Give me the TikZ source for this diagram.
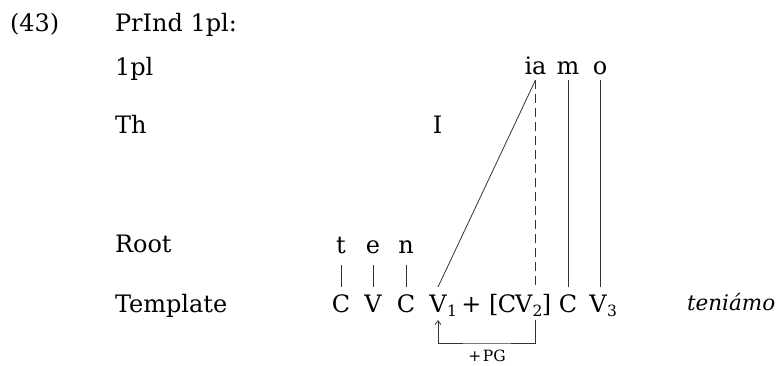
\documentclass[tikz,border=0pt]{standalone}
\usepackage{fontspec}
\setmainfont{DejaVu Serif}
\usetikzlibrary{arrows.meta}
\newcommand{\subsz}{\fontsize{15.5}{16}\selectfont}
\newcommand{\sbs}[1]{\rlap{\kern0.5pt\raisebox{-4pt}{\subsz #1}}}
\begin{document}
\begin{tikzpicture}[x=1pt,y=-1pt,
  every node/.style={inner sep=0pt, outer sep=0pt, text=black,
    font=\fontsize{24}{28}\selectfont},
  lab/.style={anchor=base west},
  seg/.style={anchor=base},
  topseg/.style={anchor=base, text height=13pt, text depth=0pt, inner ysep=6pt},
  rootseg/.style={anchor=base, text height=13pt, text depth=0pt, inner ysep=12pt},
  tmpl/.style={anchor=base, text height=17pt, text depth=0pt, inner ysep=8pt},
  assoc/.style={draw=black!80, line width=0.8pt},
  dassoc/.style={assoc, dash pattern=on 9pt off 5pt},
  arr/.style={assoc, -{Straight Barb[length=4pt,width=6pt]}},
  small/.style={font=\fontsize{15.5}{17}\selectfont}]
\useasboundingbox (0,0) rectangle (776,365);

% header
\node[lab] (ex) at (10,31) {(43)};
\node[lab] (title) at (115,31) {PrInd 1pl:};

% tier labels
\node[lab] (l1pl) at (115,75) {1pl};
\node[lab] (lth) at (115,133) {Th};
\node[lab] (lroot) at (115,252) {Root};
\node[lab] (ltmpl) at (115,312) {Template};

% 1pl tier
\node[topseg] (ia) at (535.5,74) {ia};
\node[topseg] (m) at (568,74) {m};
\node[topseg] (o) at (600,74) {o};

% Th tier
\node[seg] (thI) at (437.5,133) {I};

% Root tier
\node[rootseg] (t) at (341,253) {t};
\node[rootseg] (e) at (373,253) {e};
\node[rootseg] (n) at (406,253) {n};

% Template tier
\node[tmpl] (C1) at (341,312) {C};
\node[tmpl] (V0) at (373,312) {V};
\node[tmpl] (C2) at (406,312) {C};
\node[tmpl] (V1) at (438,312) {V\sbs{1}};
\node[tmpl] (plus) at (471.5,312) {+};
\node[tmpl, anchor=base west] (CV2) at (489,312) {[\kern-0.5pt C\kern-1pt V\kern0pt\raisebox{-4pt}{\subsz 2}\kern-0.5pt]};
\node[tmpl] (C3) at (568,312) {C};
\node[tmpl] (V3) at (598,312) {V\sbs{3}};
\node[anchor=base west, font=\fontsize{21.5}{26}\selectfont\itshape] (form) at (687,310) {teniámo};

% association lines
\draw[assoc] (t.south) -- (C1.north);
\draw[assoc] (e.south) -- (V0.north);
\draw[assoc] (n.south) -- (C2.north);
\draw[assoc] (V1.north) -- (ia.south);
\draw[dassoc] (ia.south) -- (ia.south |- C1.north);
\draw[assoc] (m.south) -- (C3.north);
\draw[assoc] (o.south) -- (o.south |- V3.north);

% +PG
\node[small, anchor=north, text height=10.5pt, text depth=0pt, inner ysep=8pt] (pg) at (487,343) {+\kern1.5pt PG};
\draw[arr] (ia.south |- V1.south) |- (pg.north) -| (V1.south);
\end{tikzpicture}
\end{document}
